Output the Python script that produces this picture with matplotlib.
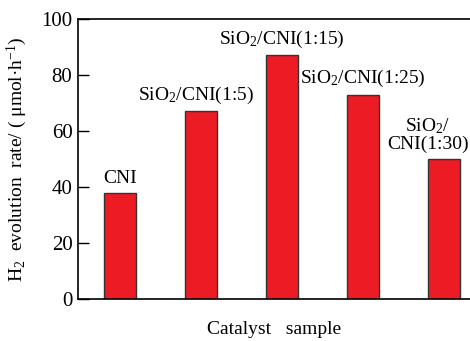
#!/usr/bin/env python3

import matplotlib
matplotlib.use('Agg')
import matplotlib.pyplot as plt

#-----------------------------------------------------------------------------#
# data

samples = ['CNI', 'SiO$_2$/CNI(1:5)', 'SiO$_2$/CNI(1:15)',
           'SiO$_2$/CNI(1:25)', 'SiO$_2$/\nCNI(1:30)']
rates = [38, 67, 87, 73, 50]
label_shift = [0.0, -0.06, 0.0, 0.0, -0.2]

#-----------------------------------------------------------------------------#
# plot

plt.rcParams['font.family'] = ['Liberation Serif', 'DejaVu Serif']
plt.rcParams['mathtext.default'] = 'regular'
plt.rcParams['font.size'] = 14

fig = plt.figure(figsize=(4.7, 3.41), dpi=100)
ax = fig.add_axes([0.166, 0.123, 0.834, 0.821])

x = list(range(len(rates)))
ax.bar(x, rates, width=0.4, color='#ED1C24', edgecolor='#333333', linewidth=1.0)

for i, (name, val) in enumerate(zip(samples, rates)):
    ax.text(i + label_shift[i], val + 2, name, ha='center', va='bottom',
            fontsize=14, linespacing=1.0)

ax.set_xlim(-0.52, 4.32)
ax.set_ylim(0, 100)
ax.set_yticks([0, 20, 40, 60, 80, 100])
ax.set_xticks([])
ax.tick_params(axis='y', direction='in', length=8, width=1, pad=4, labelsize=15)
ax.spines['right'].set_visible(False)
for s in ['left', 'top', 'bottom']:
    ax.spines[s].set_linewidth(1.2)

ax.set_ylabel('H$_2$  evolution  rate/ ( μmol·h$^{-1}$)', fontsize=14, labelpad=9)
ax.set_xlabel('Catalyst   sample', fontsize=14, labelpad=16)

plt.savefig('out.png', dpi=100)
